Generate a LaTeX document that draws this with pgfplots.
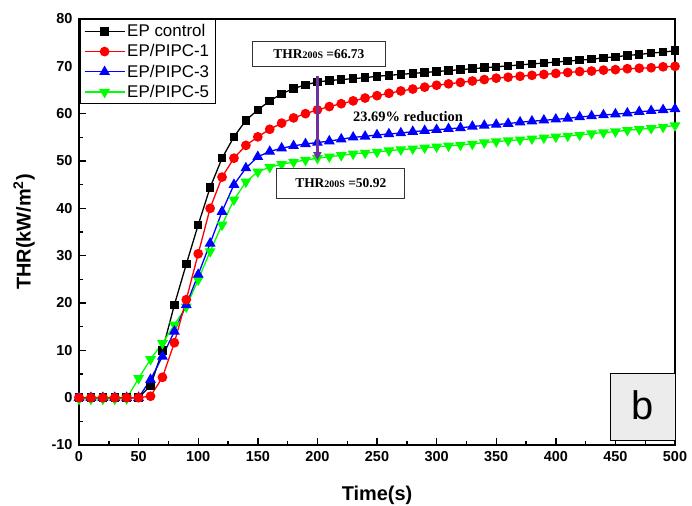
\documentclass[border=0pt]{standalone}
\usepackage{pgfplots}
\pgfplotsset{compat=1.18}
\usepackage{fontspec}
\setmainfont{Liberation Sans}
\newfontfamily\timesfont{Liberation Serif}
\usetikzlibrary{calc,arrows.meta}
\definecolor{arrowpurple}{RGB}{112,48,160}
\definecolor{brightgreen}{RGB}{0,255,0}
\definecolor{boxgray}{RGB}{236,236,236}

% THR (kW/m^2) vs time, one table per sample
\pgfplotstableread{
t y
0 0
10 0
20 0
30 0
40 0
50 0
60 2.5
70 10
80 19.6
90 28.2
100 36.5
110 44.4
120 50.6
130 55.1
140 58.6
150 60.8
160 62.7
170 64.2
180 65.3
190 66.1
200 66.7
210 67.0
220 67.2
230 67.4
240 67.6
250 67.9
260 68.1
270 68.3
280 68.5
290 68.7
300 68.9
310 69.1
320 69.3
330 69.5
340 69.7
350 69.9
360 70.1
370 70.3
380 70.5
390 70.7
400 70.9
410 71.1
420 71.3
430 71.5
440 71.8
450 72.0
460 72.3
470 72.5
480 72.8
490 73.0
500 73.3
}\control
\pgfplotstableread{
t y
0 0
10 0
20 0
30 0
40 0
50 0
60 0.3
70 4.3
80 11.6
90 20.7
100 30.4
110 40.0
120 46.6
130 50.6
140 53.3
150 55.1
160 56.7
170 58.0
180 59.1
190 60.0
200 60.8
210 61.5
220 62.1
230 62.7
240 63.3
250 63.8
260 64.3
270 64.8
280 65.2
290 65.6
300 66.0
310 66.3
320 66.6
330 66.9
340 67.2
350 67.5
360 67.7
370 67.9
380 68.1
390 68.3
400 68.5
410 68.7
420 68.9
430 69.0
440 69.2
450 69.3
460 69.5
470 69.6
480 69.7
490 69.9
500 70.0
}\pipcA
\pgfplotstableread{
t y
0 0
10 0
20 0
30 0
40 0
50 0
60 3.8
70 8.7
80 14.0
90 19.6
100 26.0
110 32.6
120 39.3
130 45.0
140 48.5
150 50.9
160 52.0
170 52.7
180 53.2
190 53.6
200 53.9
210 54.2
220 54.6
230 55.0
240 55.2
250 55.5
260 55.7
270 55.9
280 56.2
290 56.4
300 56.6
310 56.8
320 57.0
330 57.3
340 57.5
350 57.7
360 57.9
370 58.2
380 58.4
390 58.6
400 58.8
410 59.0
420 59.3
430 59.5
440 59.7
450 59.9
460 60.1
470 60.4
480 60.6
490 60.8
500 61.0
}\pipcB
\pgfplotstableread{
t y
0 -0.3
10 -0.3
20 -0.3
30 -0.3
40 -0.2
50 4.1
60 8.1
70 11.5
80 15.4
90 19.2
100 24.9
110 30.9
120 36.5
130 41.8
140 45.6
150 47.7
160 48.7
170 49.3
180 49.8
190 50.2
200 50.6
210 50.9
220 51.2
230 51.5
240 51.7
250 51.9
260 52.2
270 52.4
280 52.6
290 52.8
300 53.0
310 53.2
320 53.4
330 53.6
340 53.9
350 54.1
360 54.3
370 54.5
380 54.7
390 54.9
400 55.1
410 55.3
420 55.5
430 55.8
440 56.0
450 56.2
460 56.5
470 56.7
480 56.9
490 57.2
500 57.5
}\pipcC

\begin{document}
\begin{tikzpicture}
\begin{axis}[
    scale only axis,
    width=596bp, height=426bp,
    xmin=0, xmax=500, ymin=-10, ymax=80,
    xtick={0,50,...,500}, ytick={-10,0,...,80},
    minor x tick num=1, minor y tick num=1,
    xtick pos=bottom, ytick pos=left,
    tick align=inside,
    major tick length=7bp, minor tick length=4bp,
    every tick/.style={black, line width=1.4bp},
    axis line style={line width=1.8bp},
    ticklabel style={font=\fontsize{14.5}{16}\selectfont\bfseries},
    xticklabel style={yshift=-3bp},
    yticklabel style={xshift=-3bp},
    /pgf/number format/assume math mode=true,
    xlabel={Time(s)}, ylabel={THR(kW/m\textsuperscript{2})},
    label style={font=\fontsize{20}{22}\selectfont\bfseries},
    xlabel style={yshift=-17bp},
    ylabel style={yshift=10bp},
    legend style={at={(0,1)}, anchor=north west, xshift=0.5bp, yshift=-0.5bp,
        font=\fontsize{17}{19}\selectfont, draw=black, line width=0.9bp,
        inner xsep=4bp, inner ysep=2.5bp, row sep=2.5bp},
    legend cell align=left,
    legend image code/.code={%
        \draw[mark repeat=2, mark phase=2] plot coordinates {(2bp,0bp) (22bp,0bp) (42bp,0bp)};},
    clip=false,
]
\addlegendimage{black, line width=1.3bp, mark=square*, mark size=3.6bp}
\addlegendentry{EP control}
\addlegendimage{red, line width=1.3bp, mark=*, mark size=4.2bp}
\addlegendentry{EP/PIPC-1}
\addlegendimage{blue, line width=1.3bp, mark=triangle*, mark size=5bp}
\addlegendentry{EP/PIPC-3}
\addlegendimage{brightgreen, line width=1.3bp, mark=triangle*, mark size=5bp, mark options={rotate=180}}
\addlegendentry{EP/PIPC-5}

\addplot[black, line width=1.3bp, mark=square*, mark size=3.6bp, forget plot] table[x=t, y=y] {\control};
\addplot[brightgreen, line width=1.3bp, mark=triangle*, mark size=5bp, mark options={rotate=180}, forget plot] table[x=t, y=y] {\pipcC};
\addplot[blue, line width=1.3bp, mark=triangle*, mark size=5bp, forget plot] table[x=t, y=y] {\pipcB};
\addplot[red, line width=1.3bp, mark=*, mark size=4.2bp, forget plot] table[x=t, y=y] {\pipcA};

% anchor points for the annotations, drawn after the axis so they sit on top
\coordinate (arrTop) at (axis cs:200,67.9);
\coordinate (arrBot) at (axis cs:200,50.2);
\coordinate (boxA) at (axis cs:201.3,72.6);
\coordinate (boxB) at (axis cs:219.6,45.3);
\coordinate (redTxt) at (axis cs:276,59.3);
\coordinate (bSW) at (axis cs:445.5,-9);
\coordinate (bNE) at (axis cs:500,5.2);
\end{axis}
\draw[draw=arrowpurple, line width=2.2bp, -{Triangle[length=8bp, width=8bp]}] (arrTop) -- (arrBot);
\node[draw=black!80, line width=0.8bp, fill=white, minimum width=133bp, minimum height=25bp, inner sep=0pt]
    at (boxA) {\timesfont\bfseries\fontsize{13.5}{15}\selectfont THR{\fontsize{10}{11}\selectfont 200S} =66.73};
\node[draw=black!80, line width=0.8bp, fill=white, minimum width=128bp, minimum height=30bp, inner sep=0pt]
    at (boxB) {\timesfont\bfseries\fontsize{13.5}{15}\selectfont THR{\fontsize{10}{11}\selectfont 200S} =50.92};
\node at (redTxt) {\timesfont\bfseries\fontsize{14.5}{16}\selectfont 23.69\% reduction};
\draw[black, line width=1bp, fill=boxgray] (bSW) rectangle (bNE);
\node at ($(bSW)!0.5!(bNE)+(0,1bp)$) {\fontsize{40}{44}\selectfont b};
\pgfresetboundingbox
\path ($(current axis.south west)+(-79bp,-61bp)$) rectangle ($(current axis.north east)+(17bp,19bp)$);
\end{tikzpicture}
\end{document}
